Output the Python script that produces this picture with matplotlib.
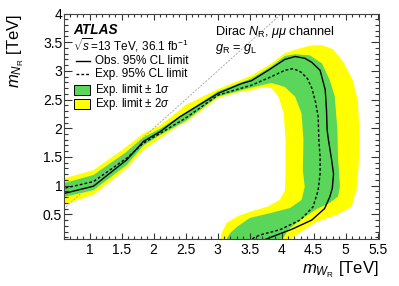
import matplotlib

matplotlib.use("Agg")
import matplotlib.pyplot as plt
from matplotlib.patches import Rectangle
from matplotlib.ticker import FormatStrFormatter, MultipleLocator

plt.rcParams["font.family"] = ["Liberation Sans", "DejaVu Sans"]
plt.rcParams["mathtext.fontset"] = "custom"
plt.rcParams["mathtext.rm"] = "Liberation Sans"
plt.rcParams["mathtext.it"] = "Liberation Sans:italic"
plt.rcParams["mathtext.bf"] = "Liberation Sans:bold"

# expected +-2 sigma band: outer (upper/right) and inner (lower/left) edges, TeV
y2_out_x = [0.55, 1.06, 1.58, 1.84, 2.10, 2.41, 2.49, 3.00, 3.53, 3.84, 4.05, 4.21, 4.44, 4.62,
            4.80, 4.96, 5.11, 5.19, 5.22, 5.20, 5.17, 5.09, 4.86, 4.55, 4.35, 4.15, 4.10]
y2_out_y = [1.11, 1.27, 1.68, 1.91, 2.05, 2.32, 2.40, 2.68, 2.92, 3.13, 3.31, 3.37, 3.44, 3.45,
            3.38, 3.16, 2.84, 2.49, 1.80, 1.30, 0.92, 0.63, 0.49, 0.37, 0.23, 0.075, 0.0]
y2_in_x = [0.55, 1.06, 1.58, 1.84, 2.10, 2.41, 2.49, 3.00, 3.30, 3.53, 3.70, 3.84, 3.95, 4.03,
           4.06, 4.06, 4.05, 3.97, 3.77, 3.50, 3.30, 3.14, 3.06, 3.03]
y2_in_y = [0.65, 0.84, 1.30, 1.62, 1.82, 2.06, 2.09, 2.52, 2.62, 2.66, 2.72, 2.70, 2.55, 2.26,
           1.80, 1.20, 0.92, 0.75, 0.63, 0.545, 0.46, 0.35, 0.17, 0.0]

# expected +-1 sigma band
g1_out_x = [0.55, 1.06, 1.58, 1.84, 2.10, 2.49, 3.00, 3.53, 3.84, 4.05, 4.21, 4.44, 4.63, 4.75,
            4.83, 4.87, 4.88, 4.91, 4.88, 4.75, 4.52, 4.29, 4.10, 3.98]
g1_out_y = [1.03, 1.185, 1.59, 1.84, 1.99, 2.27, 2.64, 2.87, 3.08, 3.26, 3.29, 3.27, 3.13, 2.84,
            2.55, 1.97, 1.50, 0.98, 0.81, 0.70, 0.575, 0.40, 0.23, 0.0]
g1_in_x = [0.55, 1.06, 1.58, 1.84, 2.10, 2.49, 3.00, 3.53, 3.84, 4.05, 4.21, 4.31, 4.34, 4.33,
           4.36, 4.31, 4.13, 3.82, 3.50, 3.30, 3.19, 3.14, 3.12]
g1_in_y = [0.79, 0.92, 1.36, 1.70, 1.88, 2.12, 2.55, 2.71, 2.79, 2.72, 2.55, 2.26, 1.80, 1.27,
           0.98, 0.75, 0.61, 0.52, 0.435, 0.28, 0.17, 0.07, 0.0]

# observed and expected 95% CL limit contours
obs_x = [0.55, 1.06, 1.58, 1.84, 2.10, 2.41, 3.01, 3.375, 3.53, 3.79, 4.05, 4.21, 4.36, 4.47,
         4.60, 4.68, 4.70, 4.71, 4.73, 4.78, 4.81, 4.79, 4.75, 4.67, 4.47, 4.16, 3.90, 3.74, 3.70]
obs_y = [0.85, 0.99, 1.45, 1.77, 1.94, 2.20, 2.61, 2.78, 2.83, 3.01, 3.20, 3.25, 3.22, 3.15,
         3.01, 2.67, 2.32, 1.97, 1.80, 1.45, 1.20, 0.95, 0.80, 0.60, 0.40, 0.24, 0.13, 0.06, 0.0]
exp_x = [0.55, 1.06, 1.58, 1.84, 2.10, 2.49, 3.01, 3.53, 3.84, 4.05, 4.18, 4.30, 4.40, 4.47,
         4.53, 4.57, 4.58, 4.60, 4.60, 4.57, 4.49, 4.29, 3.97, 3.66, 3.53, 3.50]
exp_y = [0.94, 1.07, 1.48, 1.74, 1.91, 2.17, 2.58, 2.75, 2.90, 3.01, 3.04, 2.98, 2.87, 2.70,
         2.45, 2.20, 1.80, 1.50, 1.21, 0.92, 0.63, 0.40, 0.23, 0.14, 0.07, 0.0]

# kinematic boundary m_N = m_W
diag_x = [0.0, 4.5]
diag_y = [0.0, 4.5]

YELLOW = "#ffff00"
GREEN = "#5ad65a"

fig = plt.figure(figsize=(3.99, 2.86), dpi=100)
ax = fig.add_axes([64 / 399, 1 - 238.7 / 286, 315 / 399, 225.2 / 286])

ax.fill(y2_out_x + y2_in_x[::-1], y2_out_y + y2_in_y[::-1], color=YELLOW, lw=0)
ax.fill(g1_out_x + g1_in_x[::-1], g1_out_y + g1_in_y[::-1], color=GREEN, lw=0)
ax.plot(diag_x, diag_y, color="#aaaaaa", lw=0.7, ls=(0, (2, 1.5)))
ax.plot(exp_x, exp_y, color="k", lw=1.0, ls=(0, (2, 1.5)))
ax.plot(obs_x, obs_y, color="k", lw=1.0)

ax.set_xlim(0.6, 5.52)
ax.set_ylim(0.075, 4.0)

ax.xaxis.set_major_locator(MultipleLocator(0.5))
ax.xaxis.set_minor_locator(MultipleLocator(0.1))
ax.yaxis.set_major_locator(MultipleLocator(0.5))
ax.yaxis.set_minor_locator(MultipleLocator(0.1))
ax.xaxis.set_major_formatter(FormatStrFormatter("%g"))
ax.yaxis.set_major_formatter(FormatStrFormatter("%g"))
ax.tick_params(which="both", direction="in", top=True, right=True, colors="#333333",
               labelcolor="k", labelsize=10, width=0.8)
ax.tick_params(axis="x", which="major", length=4.0, pad=3)
ax.tick_params(axis="x", which="minor", length=2.0)
ax.tick_params(axis="y", which="major", length=5.5, pad=1.3)
ax.tick_params(axis="y", which="minor", length=2.7)
for s in ax.spines.values():
    s.set_color("#444444")
    s.set_linewidth(0.8)

ax.set_xlabel(r"$m_{W_\mathrm{R}}$ [TeV]", fontsize=12, loc="right")
ax.xaxis.set_label_coords(1.0, -0.09)
ax.set_ylabel(r"$m_{N_\mathrm{R}}$ [TeV]", fontsize=12, loc="top")
ax.yaxis.set_label_coords(-0.12, 1.0)


def axp(px, py):
    return (px - 64) / 315, (238.7 - py) / 225.2


# legend block (top left)
fs = 8.3
ax.text(*axp(73, 30.5), "ATLAS", transform=ax.transAxes, fontsize=9.8, fontweight="bold",
        fontstyle="italic", va="center")
ax.text(*axp(73, 45), r"$\sqrt{s}$=13 TeV, 36.1 fb$^{-1}$", transform=ax.transAxes,
        fontsize=8.5, va="center")
x0, y0 = axp(76, 60.7)
x1, _ = axp(90, 60.7)
ax.plot([x0, x1], [y0, y0], color="k", lw=1.0, transform=ax.transAxes)
ax.text(*axp(95, 60.7), "Obs. 95% CL limit", transform=ax.transAxes, fontsize=8.5, va="center")
x0, y0 = axp(76, 74)
ax.plot([x0, x1], [y0, y0], color="k", lw=1.0, ls=(0, (2, 1.5)), transform=ax.transAxes)
ax.text(*axp(95, 74), "Exp. 95% CL limit", transform=ax.transAxes, fontsize=8.5, va="center")
for py, col, lab in [(89.5, GREEN, r"Exp. limit $\pm$ 1$\sigma$"),
                     (104, YELLOW, r"Exp. limit $\pm$ 2$\sigma$")]:
    bx, by = axp(74, py + 5)
    ax.add_patch(Rectangle((bx, by), 16 / 315, 10 / 225.2, transform=ax.transAxes,
                           facecolor=col, edgecolor="k", lw=0.7))
    ax.text(*axp(95, py), lab, transform=ax.transAxes, fontsize=fs, va="center")

# model text (top right)
ax.text(*axp(215, 31.5), r"Dirac $N_\mathrm{R}$, $\mu\mu$ channel", transform=ax.transAxes,
        fontsize=9.2, va="center")
ax.text(*axp(215, 49), r"$g_\mathrm{R}$ = $g_\mathrm{L}$", transform=ax.transAxes,
        fontsize=9.2, va="center")

fig.savefig("out.png", dpi=100)
